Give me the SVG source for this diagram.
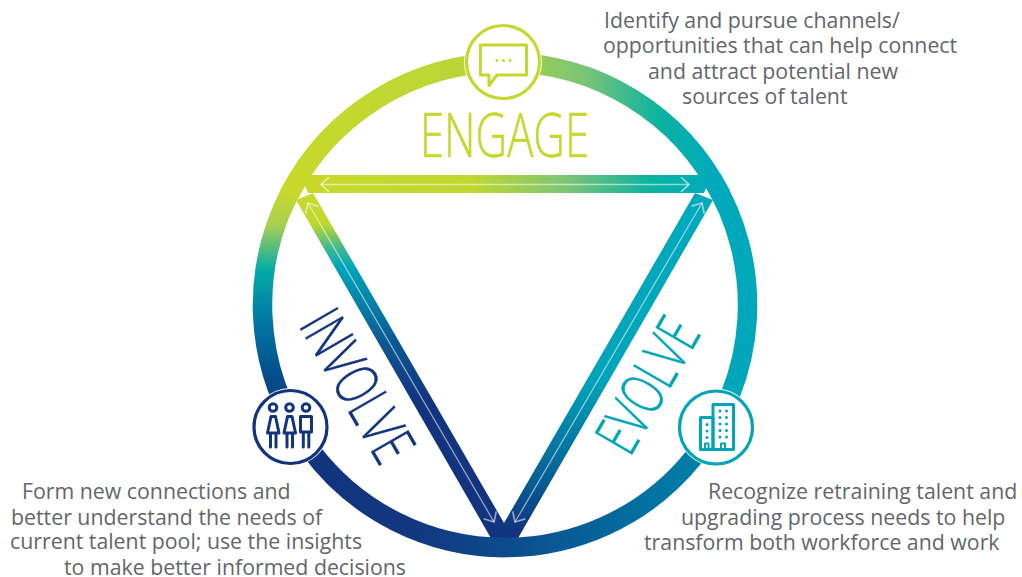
<svg xmlns="http://www.w3.org/2000/svg" width="1022" height="577" viewBox="0 0 1022 577">
<style>
.t{font-family:"Open Sans","Liberation Sans",sans-serif;font-size:21.3px;fill:#63666a}
.h{font-family:"Open Sans","Liberation Sans",sans-serif;font-size:60px;font-weight:300;stroke-width:.5}
.ring{fill:none;stroke-width:19.500}
.ar{fill:none;stroke:#fff;stroke-opacity:.55;stroke-width:1.3}
.ic{fill:none;stroke-width:3;stroke-linejoin:round;stroke-linecap:round}
.disc{fill:#fff;stroke-width:3.2}
.halo{fill:#fff}
</style>
<defs>
<linearGradient id="gTop" gradientUnits="userSpaceOnUse" x1="290" y1="0" x2="710" y2="0">
<stop offset="0" stop-color="#c9d92b"/><stop offset=".45" stop-color="#b8d637"/><stop offset=".7" stop-color="#7cc576"/><stop offset=".88" stop-color="#0bb3a0"/><stop offset="1" stop-color="#00aaba"/>
</linearGradient>
<linearGradient id="gBar" gradientUnits="userSpaceOnUse" x1="300" y1="0" x2="710" y2="0">
<stop offset="0" stop-color="#c9d92b"/><stop offset=".42" stop-color="#bfd730"/><stop offset=".65" stop-color="#7cc576"/><stop offset=".85" stop-color="#0bb3a0"/><stop offset="1" stop-color="#00aabb"/>
</linearGradient>
<linearGradient id="gRight" gradientUnits="userSpaceOnUse" x1="0" y1="180" x2="0" y2="480">
<stop offset="0" stop-color="#00aaba"/><stop offset=".75" stop-color="#00a6bb"/><stop offset="1" stop-color="#0088ac"/>
</linearGradient>
<linearGradient id="gBotR" gradientUnits="userSpaceOnUse" x1="505" y1="0" x2="700" y2="0">
<stop offset="0" stop-color="#0c4a8c"/><stop offset="1" stop-color="#0080a8"/>
</linearGradient>
<linearGradient id="gBotL" gradientUnits="userSpaceOnUse" x1="330" y1="0" x2="505" y2="0">
<stop offset="0" stop-color="#12347f"/><stop offset=".5" stop-color="#12387f"/><stop offset="1" stop-color="#0c4a8c"/>
</linearGradient>
<linearGradient id="gLeft" gradientUnits="userSpaceOnUse" x1="0" y1="190" x2="0" y2="440">
<stop offset="0" stop-color="#c9d92b"/><stop offset=".14" stop-color="#a9cf52"/><stop offset=".32" stop-color="#04aca8"/><stop offset=".52" stop-color="#0078a5"/><stop offset=".75" stop-color="#044c8b"/><stop offset="1" stop-color="#12347f"/>
</linearGradient>
<linearGradient id="gLegL" gradientUnits="userSpaceOnUse" x1="0" y1="195" x2="0" y2="400">
<stop offset="0" stop-color="#c9d92b"/><stop offset=".14" stop-color="#c0d731"/><stop offset=".26" stop-color="#3fb98e"/><stop offset=".35" stop-color="#00a6bb"/><stop offset=".7" stop-color="#0a5b96"/><stop offset="1" stop-color="#12347f"/>
</linearGradient>
<linearGradient id="gLegR" gradientUnits="userSpaceOnUse" x1="0" y1="195" x2="0" y2="530">
<stop offset="0" stop-color="#00aabb"/><stop offset=".55" stop-color="#00a4ba"/><stop offset=".85" stop-color="#045f95"/><stop offset="1" stop-color="#12347f"/>
</linearGradient>
<marker id="a" markerWidth="16" markerHeight="16" refX="11" refY="6" orient="auto-start-reverse" markerUnits="userSpaceOnUse" viewBox="0 0 12 12">
<path d="M5 .5 L11 6 L5 11.5" fill="none" stroke="#fff" stroke-opacity=".55" stroke-width="1.3"/>
</marker>
</defs>

<g id="connectors">
<polygon points="300,175 712,175 704,193 308,193" fill="url(#gBar)"/>
<polygon points="296,200 313,193 504,523 517,540 492,540" fill="url(#gLegL)"/>
<polygon points="713,200 695,193 504,523 492,540 517,540" fill="url(#gLegR)"/>
<path class="ring" d="M711.600 178 A242.500 242.500 0 0 1 694 457" stroke="url(#gRight)"/>
<path class="ring" d="M309.900 449 A242.500 242.500 0 0 1 298.400 178" stroke="url(#gLeft)"/>
<path class="ring" d="M505 547.500 A242.500 242.500 0 0 1 309.900 449" stroke="url(#gBotL)"/>
<path class="ring" d="M694 457 A242.500 242.500 0 0 1 495 547.300" stroke="url(#gBotR)"/>
<path class="ring" d="M288.900 195 A242.500 242.500 0 0 1 721.100 195" stroke="url(#gTop)"/>
<line class="ar" x1="321" y1="184.500" x2="689" y2="184.500" marker-start="url(#a)" marker-end="url(#a)"/>
<line class="ar" x1="308" y1="203" x2="494" y2="522" marker-start="url(#a)" marker-end="url(#a)"/>
<line class="ar" x1="702" y1="203" x2="515" y2="522" marker-start="url(#a)" marker-end="url(#a)"/>
</g>

<g id="engage">
<circle class="halo" cx="503" cy="62" r="39"/>
<circle class="disc" cx="503" cy="62" r="36.500" stroke="#c4d82e"/>
<path class="ic" stroke="#c4d82e" d="M480.500 45 H526.500 V75 H497 L489 85.500 V75 H480.500 Z"/>
<g fill="#c4d82e"><circle cx="497" cy="60.500" r="1.500"/><circle cx="503.500" cy="60.500" r="1.500"/><circle cx="510" cy="60.500" r="1.500"/></g>
<text class="h" x="420" y="157" fill="#c4d82e" stroke="#c4d82e" textLength="169" lengthAdjust="spacingAndGlyphs">ENGAGE</text>
<text class="t"><tspan x="604" y="28">Identify and pursue channels/</tspan><tspan x="603" y="52.500">opportunities that can help connect</tspan><tspan x="648" y="79">and attract potential new</tspan><tspan x="682" y="104">sources of talent</tspan></text>
</g>

<g id="involve">
<circle class="halo" cx="290.500" cy="427" r="39"/>
<circle class="disc" cx="290.500" cy="427" r="36.500" stroke="#12347f"/>
<g class="ic" stroke="#12347f">
<circle cx="273" cy="407.500" r="3.800"/><circle cx="289.500" cy="407.500" r="3.800"/><circle cx="306" cy="407.500" r="3.800"/>
<path d="M271 416.500 H275.500 L279 433 H267.500 Z M270.500 433 V447 M276 433 V447"/>
<path d="M287.500 416.500 H292 L295.500 433 H284 Z M287 433 V447 M292.500 433 V447"/>
<path d="M300.500 416.500 H311.500 V432 H300.500 Z M303.300 432 V447 M308.800 432 V447"/>
</g>
<text class="h" transform="translate(298 325) rotate(60)" fill="#12347f" stroke="#12347f" textLength="165" lengthAdjust="spacingAndGlyphs">INVOLVE</text>
<text class="t"><tspan x="22" y="499">Form new connections and</tspan><tspan x="11" y="525">better understand the needs of</tspan><tspan x="10" y="549">current talent pool; use the insights</tspan><tspan x="64" y="575">to make better informed decisions</tspan></text>
</g>

<g id="evolve">
<circle class="halo" cx="716" cy="427.500" r="39"/>
<circle class="disc" cx="716" cy="427.500" r="36.500" stroke="#00a5b8"/>
<g class="ic" stroke="#00a5b8">
<path d="M700.500 449.500 V417.500 H713 V449.500 Z"/>
<path d="M713 449.500 V404.500 H733.500 V449.500 Z"/>
<path d="M705 449.500 V443.500 H708.500 V449.500 M721 449.500 V443.500 H725 V449.500" stroke-width="2"/>
</g>
<g fill="#00a5b8">
<circle cx="707" cy="424.500" r="1.500"/><circle cx="707" cy="431" r="1.500"/><circle cx="707" cy="437.500" r="1.500"/>
<circle cx="720" cy="411" r="1.500"/><circle cx="726.500" cy="411" r="1.500"/><circle cx="720" cy="417.500" r="1.500"/><circle cx="726.500" cy="417.500" r="1.500"/><circle cx="720" cy="424" r="1.500"/><circle cx="726.500" cy="424" r="1.500"/><circle cx="720" cy="430.500" r="1.500"/><circle cx="726.500" cy="430.500" r="1.500"/><circle cx="720" cy="437" r="1.500"/><circle cx="726.500" cy="437" r="1.500"/>
</g>
<text class="h" transform="translate(630 458) rotate(-60)" fill="#00a5b8" stroke="#00a5b8" textLength="144" lengthAdjust="spacingAndGlyphs">EVOLVE</text>
<text class="t"><tspan x="708" y="499">Recognize retraining talent and</tspan><tspan x="681" y="525">upgrading process needs to help</tspan><tspan x="644" y="549.500">transform both workforce and work</tspan></text>
</g>
</svg>
